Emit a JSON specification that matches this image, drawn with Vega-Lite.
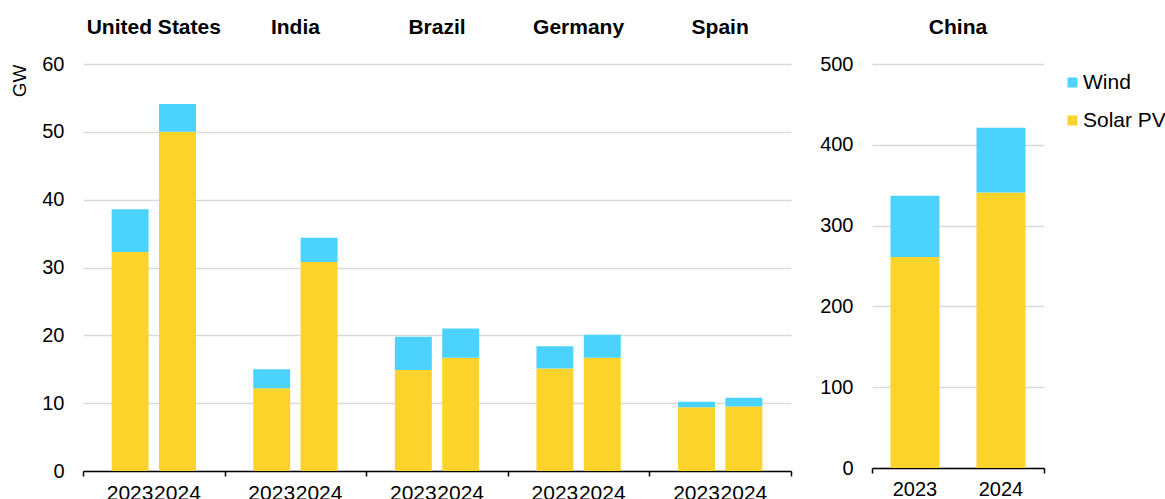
{
  "$schema": "https://vega.github.io/schema/vega-lite/v6.json",
  "padding": {"left": 10, "top": 16, "right": 0, "bottom": 0},
  "background": "white",
  "config": {
    "font": "Liberation Sans",
    "view": {"stroke": null},
    "axis": {"labelFont": "Liberation Sans", "titleFont": "Liberation Sans", "labelColor": "#000", "titleColor": "#000"},
    "legend": {"labelFont": "Liberation Sans"},
    "concat": {"spacing": 27}
  },
  "resolve": {"scale": {"xOffset": "independent", "x": "independent"}},
  "data": {
    "values": [
      {"country": "United States", "year": "2023", "type": "Solar PV", "value": 32.3},
      {"country": "United States", "year": "2023", "type": "Wind", "value": 6.3},
      {"country": "United States", "year": "2024", "type": "Solar PV", "value": 50.0},
      {"country": "United States", "year": "2024", "type": "Wind", "value": 4.1},
      {"country": "India", "year": "2023", "type": "Solar PV", "value": 12.2},
      {"country": "India", "year": "2023", "type": "Wind", "value": 2.8},
      {"country": "India", "year": "2024", "type": "Solar PV", "value": 30.8},
      {"country": "India", "year": "2024", "type": "Wind", "value": 3.6},
      {"country": "Brazil", "year": "2023", "type": "Solar PV", "value": 14.9},
      {"country": "Brazil", "year": "2023", "type": "Wind", "value": 4.9},
      {"country": "Brazil", "year": "2024", "type": "Solar PV", "value": 16.7},
      {"country": "Brazil", "year": "2024", "type": "Wind", "value": 4.3},
      {"country": "Germany", "year": "2023", "type": "Solar PV", "value": 15.1},
      {"country": "Germany", "year": "2023", "type": "Wind", "value": 3.3},
      {"country": "Germany", "year": "2024", "type": "Solar PV", "value": 16.7},
      {"country": "Germany", "year": "2024", "type": "Wind", "value": 3.4},
      {"country": "Spain", "year": "2023", "type": "Solar PV", "value": 9.4},
      {"country": "Spain", "year": "2023", "type": "Wind", "value": 0.8},
      {"country": "Spain", "year": "2024", "type": "Solar PV", "value": 9.5},
      {"country": "Spain", "year": "2024", "type": "Wind", "value": 1.3},
      {"country": "China", "year": "2023", "type": "Solar PV", "value": 261},
      {"country": "China", "year": "2023", "type": "Wind", "value": 76},
      {"country": "China", "year": "2024", "type": "Solar PV", "value": 341},
      {"country": "China", "year": "2024", "type": "Wind", "value": 80}
    ]
  },
  "hconcat": [
    {
      "width": 708,
      "height": 407,
      "transform": [{"filter": "datum.country !== 'China'"}],
      "layer": [
        {
          "mark": {"type": "bar"},
          "encoding": {
            "x": {
              "field": "country", "type": "nominal",
              "sort": ["United States", "India", "Brazil", "Germany", "Spain"],
              "scale": {"paddingInner": 0, "paddingOuter": 0},
              "axis": {"orient": "bottom", "labels": false, "title": null, "domainColor": "#000", "domainWidth": 1.5, "tickColor": "#000", "tickWidth": 1.5, "tickSize": 5, "tickBand": "extent", "grid": false}
            },
            "xOffset": {"field": "year", "type": "nominal", "scale": {"paddingInner": 0.22, "paddingOuter": 0.605}},
            "y": {
              "field": "value", "type": "quantitative", "stack": "zero",
              "scale": {"domain": [0, 60]},
              "axis": {"title": "GW", "titleAnchor": "end", "titleFontSize": 19, "titleFontWeight": "normal", "titlePadding": 12, "labelFontSize": 20, "labelPadding": 19, "ticks": false, "domain": false, "gridColor": "#d9d9d9", "gridWidth": 1.5, "values": [0, 10, 20, 30, 40, 50, 60]}
            },
            "color": {
              "field": "type", "type": "nominal",
              "scale": {"domain": ["Wind", "Solar PV"], "range": ["#4BD3FE", "#FCD32A"]},
              "legend": {"title": null, "orient": "right", "offset": 9, "padding": 8, "symbolType": "square", "symbolSize": 100, "symbolStrokeWidth": 0, "labelFontSize": 21, "rowPadding": 16, "labelOffset": 0}
            },
            "order": {"field": "type", "sort": "ascending"}
          }
        },
        {
          "transform": [{"filter": "datum.type === 'Solar PV'"}],
          "mark": {"type": "text", "baseline": "top", "dy": 12, "fontSize": 21, "font": "Liberation Sans", "color": "#000"},
          "encoding": {
            "x": {
              "field": "country", "type": "nominal",
              "sort": ["United States", "India", "Brazil", "Germany", "Spain"],
              "axis": {"orient": "top", "labelAngle": 0, "domain": false, "ticks": false, "labelFontWeight": "bold", "labelFontSize": 21, "labelPadding": 27, "title": null, "grid": false}
            },
            "xOffset": {"field": "year", "type": "nominal"},
            "y": {"datum": 0},
            "text": {"field": "year"}
          }
        }
      ],
      "resolve": {"axis": {"x": "independent"}}
    },
    {
      "width": 172,
      "height": 404,
      "transform": [{"filter": "datum.country === 'China'"}],
      "layer": [
        {
          "mark": {"type": "bar"},
          "encoding": {
            "x": {
              "field": "country", "type": "nominal",
              "scale": {"paddingInner": 0, "paddingOuter": 0},
              "axis": {"orient": "bottom", "labels": false, "title": null, "domainColor": "#000", "domainWidth": 1.5, "tickColor": "#000", "tickWidth": 1.5, "tickSize": 5, "tickBand": "extent", "grid": false}
            },
            "xOffset": {"field": "year", "type": "nominal", "scale": {"paddingInner": 0.43, "paddingOuter": 0.215}},
            "y": {
              "field": "value", "type": "quantitative", "stack": "zero",
              "scale": {"domain": [0, 500]},
              "axis": {"title": null, "labelFontSize": 20, "labelPadding": 19, "ticks": false, "domain": false, "gridColor": "#d9d9d9", "gridWidth": 1.5, "values": [0, 100, 200, 300, 400, 500]}
            },
            "color": {"field": "type", "type": "nominal"},
            "order": {"field": "type", "sort": "ascending"}
          }
        },
        {
          "transform": [{"filter": "datum.type === 'Solar PV'"}],
          "mark": {"type": "text", "baseline": "top", "dy": 12, "fontSize": 20, "font": "Liberation Sans", "color": "#000"},
          "encoding": {
            "x": {
              "field": "country", "type": "nominal",
              "axis": {"orient": "top", "labelAngle": 0, "domain": false, "ticks": false, "labelFontWeight": "bold", "labelFontSize": 21, "labelPadding": 27, "title": null, "grid": false}
            },
            "xOffset": {"field": "year", "type": "nominal"},
            "y": {"datum": 0},
            "text": {"field": "year"}
          }
        }
      ],
      "resolve": {"axis": {"x": "independent"}}
    }
  ]
}
